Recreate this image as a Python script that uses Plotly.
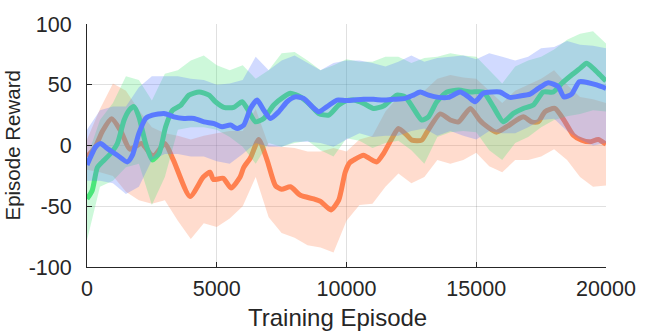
"""Episode reward curves with shaded spread, MATLAB look."""
import plotly.graph_objects as go

INK = "#262626"
GRID = "rgba(38,38,38,0.14)"
FONT = "Liberation Sans, Arial, Helvetica, sans-serif"

# mean curves (episode, reward)
ORANGE_X = [0, 300, 600, 950, 1300, 1650, 2100, 2550, 3000, 3330, 3970, 4480, 4740, 4870,
            5250, 5550, 5900, 6040, 6300, 6620, 6940, 7260, 7500, 7840, 8225, 8740, 9000,
            9400, 9700, 9950, 10130, 10270, 10655, 10910, 11170, 11426, 11750, 12000, 12325,
            12520, 12900, 13100, 13610, 14000, 14320, 14770, 15130, 15270, 15780, 16170,
            16810, 17130, 17390, 17650, 18030, 18420, 18740, 19060, 19380, 19700, 20000]
ORANGE_Y = [-9, -2, 12, 22, 12, -3, 1.6, -9, 1.6, -12, -42, -26, -22, -28,
             -27, -35, -26, -18, -10, 5, -12, -33, -36, -34, -41, -44, -46,
             -53, -45, -22, -14, -12, -8, -11, -13.5, -6.6, 5.8, 14, 8.5,
             4.4, 4.4, 11, 26, 21, 19.5, 30.5, 21, 18, 11, 15.4,
             23.6, 19.5, 19.5, 27.8, 30.5, 19.5, 8.5, 4.4, 3, 5, 1]

GREEN_X = [0, 200, 400, 590, 910, 1170, 1430, 1620, 1810, 2000, 2260, 2520, 2775, 3030,
           3290, 3610, 3930, 4320, 4700, 4950, 5270, 5655, 5977, 6170, 6490, 6812, 7197,
           7580, 7840, 8225, 8610, 8930, 9318, 9700, 10000, 10270, 10655, 11040, 11426,
           11940, 12260, 12580, 12900, 13160, 13480, 13870, 14320, 14770, 15270, 15655,
           16040, 16430, 16810, 17200, 17580, 17970, 18290, 18675, 19000, 19250, 19510,
           19770, 20000]
GREEN_Y = [-44, -37, -18, -13.5, -6.6, 1.6, 21, 29, 32, 23.6, 1.6, -12, -6.6, 15.4,
           29, 33, 41.5, 44, 41.5, 36, 31.4, 31.4, 36, 30.5, 19.5, 22.3, 33.3,
           40, 43, 40, 33.3, 26.4, 25, 33.3, 37, 37.4, 34.7, 30.5, 32.5,
           41.5, 40, 30.5, 21, 23.6, 36, 44, 45.6, 44, 44, 32,
           19.5, 26.4, 30.5, 33.3, 44, 44, 51, 58, 63.5, 67.7, 63.5,
           58, 53]

BLUE_X = [0, 140, 335, 527, 784, 1170, 1555, 1750, 2000, 2260, 2520, 2970, 3350, 3740,
          4125, 4510, 4900, 5205, 5527, 5784, 6040, 6300, 6555, 6812, 7070, 7390, 7710,
          8030, 8350, 8675, 8930, 9250, 9640, 9960, 10270, 10655, 11040, 11426, 11812,
          12260, 12580, 12840, 13160, 13545, 13930, 14380, 14700, 14950, 15270, 15590,
          15910, 16300, 16680, 17070, 17390, 17775, 18160, 18380, 18675, 18970, 19320,
          19640, 20000]
BLUE_Y = [-16, -9.4, -1, 1.6, -2.5, -8, -13.5, -8, 10, 22.3, 25, 26.4, 23.6, 22.3,
          22.3, 19.5, 18, 15.4, 16.8, 14, 16.8, 30.5, 37.4, 29, 22.3, 27.8, 36,
          40, 38.8, 32, 27.8, 32, 37.4, 37, 37.4, 38, 38, 37.4, 38,
          38.8, 41.5, 44, 41.5, 39.6, 39.6, 44, 40, 36, 43, 44,
          44, 39.6, 40.7, 42.3, 47, 51.7, 48.4, 40, 42.3, 52.5, 51.7,
          49.8, 47]

# spread bands, sampled every 500 episodes
BAND_X = list(range(0, 20001, 500))
ORANGE_HI = [5, 30, 51, 45, 29, 15, 10, 8, 5, 8, 10, 12, 12, 30, 0, -1, -2, -5, -5, -2,
             -5, 5, 8, 28, 40, 38, 45, 55, 58, 56, 55, 45, 35, 45, 50, 55, 62, 50, 40, 38, 35]
ORANGE_LO = [-20, -22, -25, -38, -45, -48, -45, -62, -77, -64, -67, -60, -50, -26, -59, -72,
             -76, -82, -84, -88, -62, -49, -48, -34, -23, -31, -26, -12, -15, -12, -6, -17,
             -22, -12, -12, -9, -3, -12, -26, -34, -33]
GREEN_HI = [-10, 21, 35, 57, 54, 37, 59, 62, 70, 74, 66, 62, 66, 55, 62, 76, 77, 70, 62, 66,
            71, 69, 69, 73, 73, 68, 72, 73, 76, 74, 73, 62, 51, 65, 70, 73, 79, 87, 92, 94, 84]
GREEN_LO = [-78, -34, -29, -18, -15, -49, -26, 13, 15, 15, 13, 7, -1, -15, 2, -1, 2, 4, -4,
            -9, 6, 4, -2, 2, 4, -4, -15, 7, 11, 12, 11, -4, -12, 2, 7, 15, 21, 24, 26, 29, 28]
BLUE_HI = [13, 29, 32, 32, 48, 57, 57, 57, 55, 54, 50, 51, 54, 73, 62, 70, 74, 68, 62, 68,
           70, 70, 68, 65, 69, 74, 69, 72, 73, 74, 71, 76, 73, 70, 73, 80, 81, 86, 83, 82, 80]
BLUE_LO = [-29, -29, -31, -40, -34, -12, -7, -7, -9, -9, -13, -15, -7, 2, -1, -1, 3, 3, 2,
           -1, 5, 10, 7, 8, 8, 12, 14, 8, 12, 8, 5, 12, 10, 10, 15, 21, 22, 12, 5, 0, 2]

SERIES = [
    (ORANGE_X, ORANGE_Y, ORANGE_HI, ORANGE_LO, (255, 128, 80)),
    (GREEN_X, GREEN_Y, GREEN_HI, GREEN_LO, (76, 230, 122)),
    (BLUE_X, BLUE_Y, BLUE_HI, BLUE_LO, (90, 122, 255)),
]

fig = go.Figure()
# each line goes down first and its own band is laid over it, so later bands tint earlier lines
for xs, ys, hi, lo, (r, g, b) in SERIES:
    fig.add_scatter(
        x=xs, y=ys, mode="lines",
        line=dict(color=f"rgb({r},{g},{b})", width=5, shape="spline", smoothing=0.6),
        showlegend=False, hoverinfo="skip",
    )
    fig.add_scatter(
        x=BAND_X + BAND_X[::-1], y=hi + lo[::-1], mode="lines", fill="toself",
        fillcolor=f"rgba({r},{g},{b},0.28)", line=dict(width=0),
        showlegend=False, hoverinfo="skip",
    )

fig.update_layout(
    width=664, height=332,
    margin=dict(l=87, r=58, t=24, b=65),
    paper_bgcolor="white", plot_bgcolor="white",
    font=dict(family=FONT, color=INK, size=21.5),
)
fig.update_xaxes(
    range=[0, 20000], tickvals=[0, 5000, 10000, 15000, 20000],
    ticktext=["0", "5000", "10000", "15000", "20000"],
    showgrid=True, gridcolor=GRID, zeroline=False, automargin=False,
    showline=True, linecolor=INK, linewidth=1,
    ticks="inside", ticklen=5, tickcolor=INK, ticklabelstandoff=2,
)
fig.update_yaxes(
    range=[-100, 100], tickvals=[-100, -50, 0, 50, 100],
    ticktext=["-100", "-50", "0", "50", "100"],
    showgrid=True, gridcolor=GRID, zeroline=False, automargin=False,
    showline=True, linecolor=INK, linewidth=1,
    ticks="inside", ticklen=5, tickcolor=INK, ticklabelstandoff=10,
)
# axis titles as annotations so they can sit where the original put them
fig.add_annotation(
    text="Training Episode", xref="paper", yref="paper", x=0.482, y=-0.206,
    xanchor="center", yanchor="middle", showarrow=False, font=dict(size=24),
)
fig.add_annotation(
    text="Episode Reward", xref="paper", yref="paper", x=-0.1445, y=0.5,
    xanchor="center", yanchor="middle", textangle=-90, showarrow=False,
    font=dict(size=20.5),
)

# drop the default body margin so the figure starts at the window corner
fig.write_html(
    "out.html",
    config={"displayModeBar": False},
    post_script="document.body.style.margin='0';",
)
